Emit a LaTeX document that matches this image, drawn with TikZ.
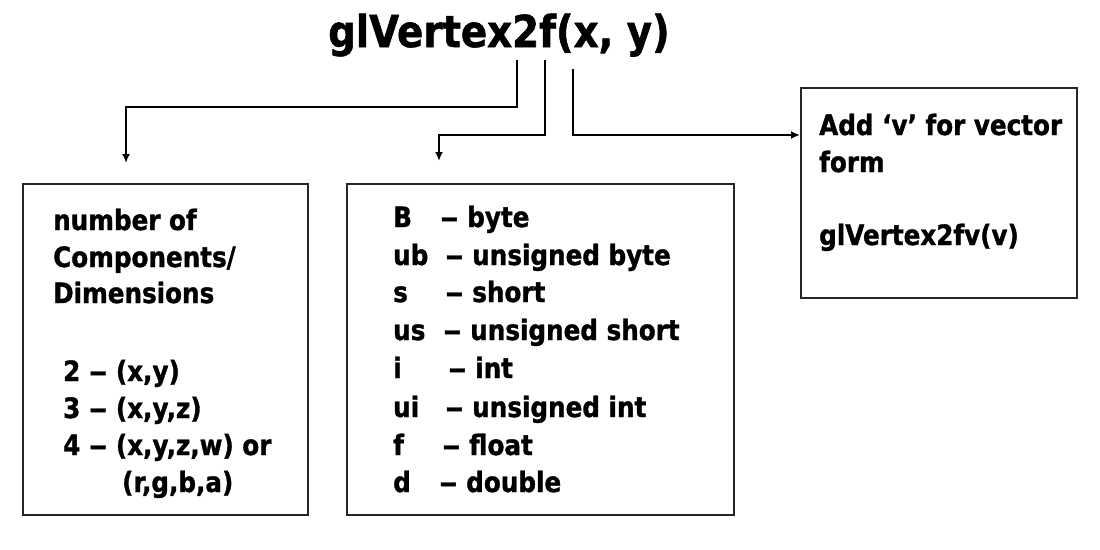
\documentclass[tikz,border=0pt]{standalone}
\usepackage{fontspec}
\usepackage{graphicx}
\setmainfont{DejaVu Sans}[FakeStretch=0.88, BoldFeatures={FakeBold=1.2}]
\usetikzlibrary{arrows.meta}
\newcommand\dsh{\scalebox{1.5}[1]{–}}
\tikzset{
  boxframe/.style={draw=black!85, line width=1.8pt, inner sep=0pt, anchor=north west},
  conn/.style={draw=black, line width=2pt, -{Latex[length=9pt,width=8pt]}},
  txt/.style={anchor=base west, inner sep=0pt, font=\bfseries\fontsize{28}{37}\selectfont},
  ttl/.style={anchor=base west, inner sep=0pt, font=\bfseries\fontsize{44}{50}\selectfont}
}
\begin{document}
\begin{tikzpicture}[x=1pt,y=-1pt]
\useasboundingbox (0,0) rectangle (1100,549);
\fill[white] (0,0) rectangle (1100,549);
% title
\node[ttl] (title) at (328,47) {glVertex2f(x, y)};
% boxes
\node[boxframe, minimum width=285pt, minimum height=331pt] (b1) at (22,183) {};
\node[boxframe, minimum width=387pt, minimum height=331pt] (b2) at (346,183) {};
\node[boxframe, minimum width=276pt, minimum height=210pt] (b3) at (800,87) {};
% connectors
\coordinate (s1) at (517,60);
\coordinate (e1) at (126,163);
\coordinate (s2) at (545,60);
\coordinate (e2) at (439,161);
\coordinate (s3) at (573,69);
\coordinate (e3) at (b3.west |- 0,135);
\draw[conn] (s1) |- (300,107) -| (e1);
\draw[conn] (s2) |- (480,135) -| (e2);
\draw[conn] (s3) |- (e3);
% box 1 text
\node[txt] (t11) at (53,230) {number of};
\node[txt] (t12) at (53,267) {Components/};
\node[txt] (t13) at (53,303) {Dimensions};
\node[txt] (t14) at (63,381) {2 \dsh{} (x,y)};
\node[txt] (t15) at (63,418) {3 \dsh{} (x,y,z)};
\node[txt] (t16) at (63,455) {4 \dsh{} (x,y,z,w) or};
\node[txt] (t17) at (122,492) {(r,g,b,a)};
% box 2 text
\node[txt] (t21) at (393,227) {\makebox[47pt][l]{B}\dsh{} byte};
\node[txt] (t22) at (393,265) {\makebox[52pt][l]{ub}\dsh{} unsigned byte};
\node[txt] (t23) at (393,302) {\makebox[52pt][l]{s}\dsh{} short};
\node[txt] (t24) at (393,340) {\makebox[50pt][l]{us}\dsh{} unsigned short};
\node[txt] (t25) at (393,378) {\makebox[55pt][l]{i}\dsh{} int};
\node[txt] (t26) at (393,417) {\makebox[52pt][l]{ui}\dsh{} unsigned int};
\node[txt] (t27) at (393,455) {\makebox[49pt][l]{f}\dsh{} float};
\node[txt] (t28) at (393,492) {\makebox[46pt][l]{d}\dsh{} double};
% box 3 text
\node[txt] (t31) at (819,135) {Add ‘v’ for vector};
\node[txt] (t32) at (819,172) {form};
\node[txt] (t33) at (819,245) {glVertex2fv(v)};
\end{tikzpicture}
\end{document}
